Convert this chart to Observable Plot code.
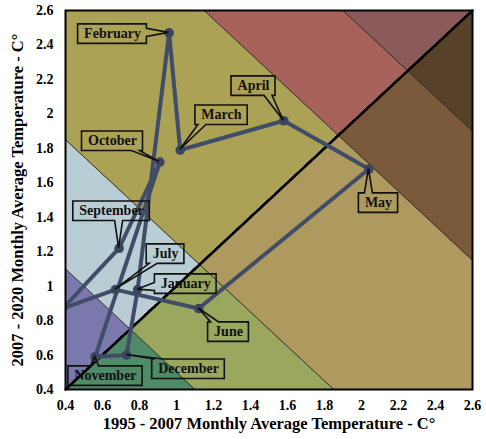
<!DOCTYPE html>
<html>
<head>
<meta charset="utf-8">
<script src="https://cdn.jsdelivr.net/npm/d3@7"></script>
<script src="https://cdn.jsdelivr.net/npm/@observablehq/plot@0.6"></script>
<style>
  html, body { margin: 0; padding: 0; background: #ffffff; }
</style>
</head>
<body>
<script>
// Monthly mean temperatures (°C): 1995–2007 period on x, 2007–2020 period on y
const months = ["January", "February", "March", "April", "May", "June",
                "July", "August", "September", "October", "November", "December"];
const temp1995_2007 = [0.79, 0.96, 1.02, 1.58, 2.04, 1.12, 0.67, 0.385, 0.69, 0.91, 0.56, 0.73];
const temp2007_2020 = [0.98, 2.47, 1.79, 1.96, 1.68, 0.87, 0.98, 0.87, 1.22, 1.72, 0.59, 0.60];

// Where each month's callout box sits (data units); August has no callout
const labelX = [1.05, 0.654, 1.243, 1.416, 2.092, 1.281, 0.941, null, 0.649, 0.654, 0.616, 1.065];
const labelY = [1.016, 2.467, 1.996, 2.165, 1.486, 0.737, 1.190, null, 1.439, 1.845, 0.482, 0.522];

// Axis ticks
const ticks = [0.4, 0.6, 0.8, 1, 1.2, 1.4, 1.6, 1.8, 2, 2.2, 2.4, 2.6];
const axisDomain = [0.4, 2.6];

// Background zones: limits on the sum x + y, split by the y = x diagonal
const zoneLimits = [0, 1.5, 2.25, 3.75, 4.5, 6];
const colorsAbove = ["#7b78ae", "#b9cdd4", "#aca256", "#a8625c", "#8a5b5a"];
const colorsBelow = ["#4f8a69", "#9aa75f", "#ae9a5e", "#7a5a3b", "#574129"];

const xTitle = "1995 - 2007 Monthly Average Temperature - C°";
const yTitle = "2007 - 2020 Monthly Average Temperature - C°";

const points = months.map((m, i) => ({month: m, x: temp1995_2007[i], y: temp2007_2020[i]}));
const path = [...points, points[0]];
const labels = points
  .map((p, i) => ({...p, lx: labelX[i], ly: labelY[i]}))
  .filter(d => d.lx != null);

// Zone polygons as areas between lines of constant x + y, on either side of y = x
function zone(lo, hi, above) {
  const xs = Array.from(new Set([0, lo / 2, hi / 2, 3.2])).filter(v => v >= 0 && v <= 3.2).sort((a, b) => a - b);
  const f = above ? Math.max : Math.min;
  return xs.map(x => ({x, y1: f(x, lo - x), y2: f(x, hi - x)}));
}
const zoneMarks = [];
for (let i = 0; i < zoneLimits.length - 1; i++) {
  for (const above of [true, false]) {
    zoneMarks.push(Plot.areaY(zone(zoneLimits[i], zoneLimits[i + 1], above), {
      x: "x", y1: "y1", y2: "y2",
      fill: above ? colorsAbove[i] : colorsBelow[i],
      stroke: "#2b2620", strokeWidth: 0.8, clip: true
    }));
  }
}

const lineColor = "#414c68";
const fmt = d => String(+d.toFixed(1));

const plot = Plot.plot({
  width: 486,
  height: 439,
  marginLeft: 65,
  marginRight: 14,
  marginTop: 10,
  marginBottom: 50,
  style: {fontFamily: "'Liberation Serif', 'Times New Roman', serif", fontSize: "14px", fontWeight: "bold", color: "#000", background: "#fff"},
  x: {domain: axisDomain, ticks, tickFormat: fmt},
  y: {domain: axisDomain, ticks, tickFormat: fmt},
  marks: [
    ...zoneMarks,
    Plot.line(axisDomain.map(d => [d, d]), {stroke: "#000", strokeWidth: 2.5}),
    Plot.line(path, {x: "x", y: "y", stroke: lineColor, strokeWidth: 4, strokeLinejoin: "round", clip: true}),
    Plot.dot(points, {x: "x", y: "y", r: 4.8, fill: "#3a4560", stroke: "none", clip: true}),
    Plot.text(labels, {x: "lx", y: "ly", text: "month", fill: "#111", fontSize: 14, ariaDescription: "month-labels"}),
    Plot.frame({stroke: "#000", strokeWidth: 2}),
    Plot.axisX({ticks, tickSize: 0, tickPadding: 11, label: null, tickFormat: fmt}),
    Plot.axisY({ticks, tickSize: 0, tickPadding: 12, label: null, tickFormat: fmt}),
    Plot.text([xTitle], {frameAnchor: "bottom", dy: 39, text: d => d, fontSize: 16.5, fill: "#000"}),
    Plot.text([yTitle], {frameAnchor: "left", textAnchor: "middle", dx: -48, rotate: -90, text: d => d, fontSize: 16.5, fill: "#000"})
  ]
});

document.body.appendChild(plot);

// Callout boxes with a pointer tail running to each month's point
const sx = plot.scale("x"), sy = plot.scale("y");
const textGroup = plot.querySelector('g[aria-description="month-labels"]');
const calloutLayer = document.createElementNS("http://www.w3.org/2000/svg", "g");
textGroup.parentNode.insertBefore(calloutLayer, textGroup);

function calloutPath(x0, y0, x1, y1, px, py) {
  const w = 8, clamp = (v, a, b) => Math.max(a, Math.min(b, v));
  let edge;
  if (py > y1) edge = "bottom";
  else if (py < y0) edge = "top";
  else if (px < x0) edge = "left";
  else edge = "right";
  const ch = clamp(px, x0 + 3 + w / 2, x1 - 3 - w / 2);
  const cv = clamp(py, y0 + 3 + w / 2, y1 - 3 - w / 2);
  const p = [[x0, y0]];
  if (edge === "top") p.push([ch - w / 2, y0], [px, py], [ch + w / 2, y0]);
  p.push([x1, y0]);
  if (edge === "right") p.push([x1, cv - w / 2], [px, py], [x1, cv + w / 2]);
  p.push([x1, y1]);
  if (edge === "bottom") p.push([ch + w / 2, y1], [px, py], [ch - w / 2, y1]);
  p.push([x0, y1]);
  if (edge === "left") p.push([x0, cv + w / 2], [px, py], [x0, cv - w / 2]);
  return "M" + p.map(q => q.map(v => v.toFixed(1)).join(",")).join("L") + "Z";
}

const texts = textGroup.querySelectorAll("text");
labels.forEach((d, i) => {
  // text boxes are measured locally, then placed at the label's scaled anchor
  const bb = texts[i].getBBox();
  const cx = sx.apply(d.lx), cy = sy.apply(d.ly);
  const x0 = cx + bb.x - 6, x1 = cx + bb.x + bb.width + 6;
  const y0 = cy + bb.y - 1.5, y1 = cy + bb.y + bb.height + 3;
  const el = document.createElementNS("http://www.w3.org/2000/svg", "path");
  el.setAttribute("d", calloutPath(x0, y0, x1, y1, sx.apply(d.x), sy.apply(d.y)));
  el.setAttribute("fill", "none");
  el.setAttribute("stroke", "#111");
  el.setAttribute("stroke-width", "1.6");
  calloutLayer.appendChild(el);
});
</script>
</body>
</html>
